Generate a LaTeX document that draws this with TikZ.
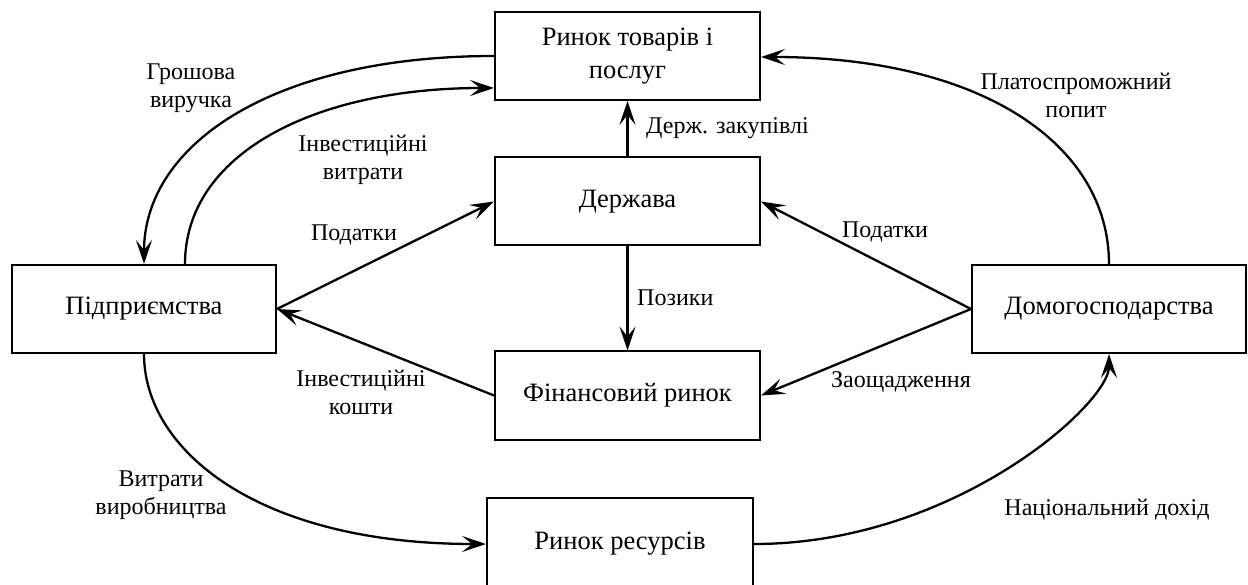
\documentclass[tikz,border=0pt]{standalone}
\usepackage{fontspec}
\setmainfont{Liberation Serif}
\usetikzlibrary{arrows.meta}
\begin{document}
\begin{tikzpicture}[x=1pt,y=-1pt,
 box/.style={draw,line width=2pt,minimum width=265pt,minimum height=88pt,inner sep=0pt,align=center,font=\fontsize{26.5}{33}\selectfont},
 lbl/.style={align=center,font=\fontsize{24}{28}\selectfont,inner sep=0pt},
 flow/.style={line width=2.3pt,-{Stealth[length=24pt,width=16pt,inset=10pt]}}]
\useasboundingbox (0,0) rectangle (1248,585);
\node[box] (rt) at (627.5,56) {Ринок товарів і\\послуг};
\node[box] (st) at (627.5,201.5) {Держава};
\node[box] (fin) at (627.5,395.5) {Фінансовий ринок};
\node[box,minimum width=266pt,minimum height=92pt] (res) at (620,544) {Ринок ресурсів};
\node[box,minimum width=264pt] (fi) at (144,309) {Підприємства};
\node[box,minimum width=274pt] (hh) at (1109,309) {Домогосподарства};
% curves
\draw[flow] (rt.west) .. controls +(-220,0) and +(0,-120) .. (fi.north);
\draw[flow] ([xshift=41pt]fi.north) .. controls +(0,-110) and +(-180,0) .. ([yshift=-32pt]rt.west);
\draw[flow] (hh.north) .. controls +(0,-120) and +(220,0) .. ([yshift=-1pt]rt.east);
\draw[flow] (fi.south) .. controls +(0,95) and +(-230,0) .. (res.west);
\draw[flow] (res.east) .. controls +(200,0) and +(0,50) .. (hh.south);
% straight
\draw[flow] (fi.east) -- (st.west);
\draw[flow] (fin.west) -- (fi.east);
\draw[flow] (st.north) -- (rt.south);
\draw[flow] (st.south) -- (fin.north);
\draw[flow] (hh.west) -- (st.east);
\draw[flow] (hh.west) -- (fin.east);
% labels
\node[lbl] (l1) at (191,88) {Грошова\\виручка};
\node[lbl] (l2) at (363,160) {Інвестиційні\\витрати};
\node[lbl] (l3) at (354,235) {Податки};
\node[lbl,anchor=west] (l4) at (646,128) {Держ. закупівлі};
\node[lbl] (l5) at (1076,95) {Платоспроможний\\попит};
\node[lbl] (l6) at (885,232) {Податки};
\node[lbl,anchor=west] (l7) at (637,298) {Позики};
\node[lbl] (l8) at (361,392) {Інвестиційні\\кошти};
\node[lbl] (l9) at (901,382) {Заощадження};
\node[lbl] (l10) at (161,495) {Витрати\\виробництва};
\node[lbl] (l11) at (1107,510) {Національний дохід};
\end{tikzpicture}
\end{document}
